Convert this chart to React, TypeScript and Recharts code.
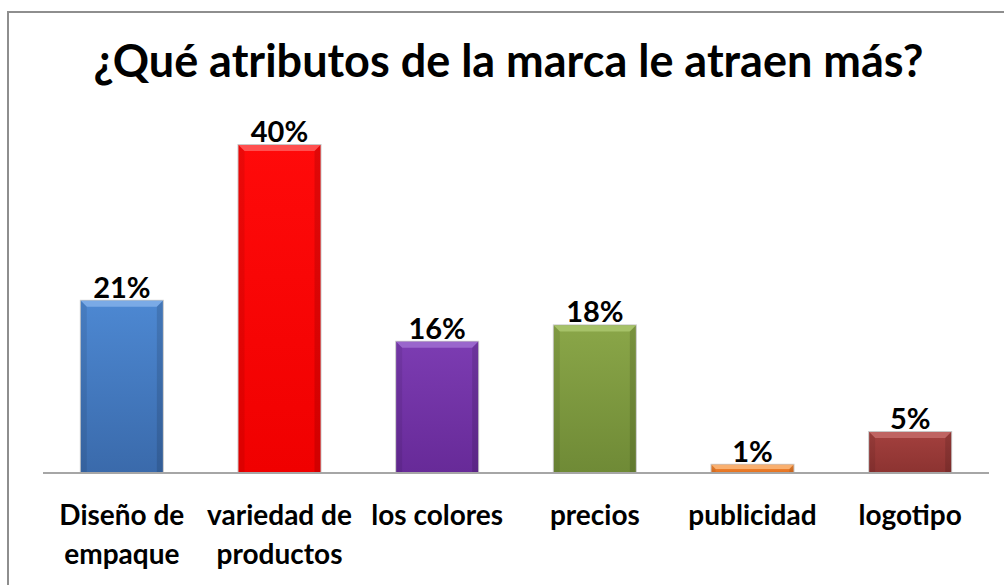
import React from "react";
import { BarChart, Bar, XAxis, YAxis, LabelList } from "recharts";

const categories = ["Diseño de empaque", "variedad de productos", "los colores", "precios", "publicidad", "logotipo"];
const tickLines = [["Diseño de", "empaque"], ["variedad de", "productos"], ["los colores"], ["precios"], ["publicidad"], ["logotipo"]];
const values = [21, 40, 16, 18, 1, 5];
const title = "¿Qué atributos de la marca le atraen más?";

const topColors = ["#4d88d2", "#ff0a0a", "#7c3cb2", "#8aa648", "#f68d3a", "#a3403e"];
const bottomColors = ["#3a6aab", "#f00000", "#672a98", "#6f8a36", "#e2701e", "#8c3331"];
const bevelColors = ["#7aaae6", "#ff5050", "#9a66cc", "#a6c268", "#f9b070", "#bf6462"];

const data = categories.map((c, i) => ({ name: c, value: values[i], idx: i }));

const FONT = "Lato, 'Open Sans', sans-serif";

function BevelBar(props: any) {
  const { x, y, width, height, payload } = props;
  if (!height || height <= 0) return null;
  const i = payload.idx;
  const b = Math.min(6, height / 2);
  return (
    <g>
      <rect x={x - 1} y={y - 1} width={width + 2} height={height + 1} fill="#c8c8c8" />
      <rect x={x} y={y} width={width} height={height} fill={`url(#grad${i})`} />
      <polygon points={`${x},${y} ${x + width},${y} ${x + width - b},${y + b} ${x + b},${y + b}`} fill={bevelColors[i]} />
      <polygon points={`${x},${y} ${x + b},${y + b} ${x + b},${y + height} ${x},${y + height}`} fill="rgba(0,0,0,0.08)" />
      <polygon points={`${x + width},${y} ${x + width - b},${y + b} ${x + width - b},${y + height} ${x + width},${y + height}`} fill="rgba(0,0,0,0.12)" />
    </g>
  );
}

function MultiTick(props: any) {
  const { x, y, index } = props;
  const lines = tickLines[index] || [];
  return (
    <text x={x} y={y} textAnchor="middle" fontFamily={FONT} fontWeight={700} fontSize={28} fill="#000">
      {lines.map((l, k) => (
        <tspan key={k} x={x} dy={k === 0 ? 52 : 39}>{l}</tspan>
      ))}
    </text>
  );
}

export default function App() {
  return (
    <div style={{ position: "fixed", left: 0, top: 0, width: 1004, height: 585, overflow: "hidden", background: "#fff" }}>
      <div style={{ position: "absolute", left: 7, top: 11, width: 1100, height: 700, border: "2px solid #8e8e8e" }} />
      <div style={{ position: "absolute", left: 0, top: 35, width: 1017, textAlign: "center", fontFamily: FONT, fontWeight: 700, fontSize: 45, lineHeight: "50px", color: "#000", whiteSpace: "nowrap" }}>
        {title}
      </div>
      <div style={{ position: "absolute", left: 0, top: 0 }}>
        <BarChart width={1004} height={585} data={data} margin={{ top: 104, right: 15, bottom: 12, left: 43 }} barCategoryGap="24%">
          <defs>
            {topColors.map((c, i) => (
              <linearGradient key={i} id={`grad${i}`} x1="0" y1="0" x2="0" y2="1">
                <stop offset="0%" stopColor={c} />
                <stop offset="100%" stopColor={bottomColors[i]} />
              </linearGradient>
            ))}
          </defs>
          <XAxis dataKey="name" interval={0} tickLine={false} tickSize={0} tickMargin={0} height={100} axisLine={{ stroke: "#a6a6a6", strokeWidth: 2 }} tick={<MultiTick />} />
          <YAxis hide domain={[0, 45]} />
          <Bar dataKey="value" isAnimationActive={false} shape={<BevelBar />}>
            <LabelList dataKey="value" position="top" offset={3} formatter={(v: any) => `${v}%`} style={{ fontFamily: FONT, fontWeight: 700, fontSize: 29, fill: "#000" }} />
          </Bar>
        </BarChart>
      </div>
    </div>
  );
}
